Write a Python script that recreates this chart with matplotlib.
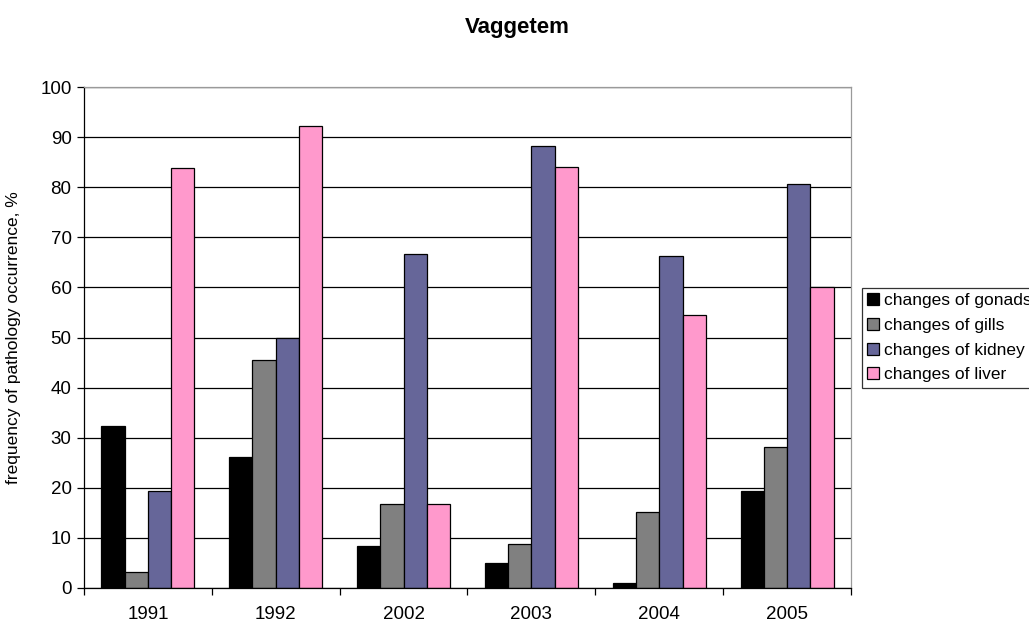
import matplotlib.pyplot as plt
import numpy as np
from matplotlib.patches import Patch

plt.rcParams['font.family'] = ['Liberation Sans', 'DejaVu Sans']

years = ['1991', '1992', '2002', '2003', '2004', '2005']
gonads = [32.3, 26.1, 8.3, 5.0, 1.0, 19.4]
gills = [3.2, 45.5, 16.7, 8.8, 15.1, 28.2]
kidney = [19.4, 50.0, 66.7, 88.2, 66.3, 80.6]
liver = [83.9, 92.3, 16.7, 84.1, 54.5, 60.0]

series = [gonads, gills, kidney, liver]
names = ['changes of gonads', 'changes of gills', 'changes of kidney', 'changes of liver']
colors = ['#000000', '#808080', '#666699', '#FF99CC']

fig = plt.figure(figsize=(10.29, 6.26), dpi=100)
ax = fig.add_axes([84 / 1029, 1 - 588 / 626, (851 - 84) / 1029, (588 - 87) / 626])

x = np.arange(len(years))
w = 0.182
for k, (vals, c) in enumerate(zip(series, colors)):
    ax.bar(x + (k - 1.5) * w, vals, w, color=c, edgecolor='black', linewidth=0.9, zorder=3)

ax.set_xlim(-0.5, len(years) - 0.5)
ax.set_ylim(0, 100)
ax.set_yticks(np.arange(0, 101, 10))
ax.yaxis.grid(True, color='black', linewidth=0.9, zorder=0)
ax.tick_params(axis='y', direction='out', length=5, width=0.9, labelsize=13.5, pad=4)

# category labels centred, tick marks on the boundaries
ax.set_xticks(np.arange(-0.5, len(years), 1.0))
ax.set_xticklabels([])
ax.set_xticks(x, minor=True)
ax.set_xticklabels(years, minor=True)
ax.tick_params(axis='x', which='major', direction='out', length=5, width=0.9)
ax.tick_params(axis='x', which='minor', length=0, labelsize=13.5, pad=13)

ax.spines['left'].set_color('black')
ax.spines['bottom'].set_color('black')
ax.spines['top'].set_color('#9a9a9a')
ax.spines['right'].set_color('#9a9a9a')
for s in ax.spines.values():
    s.set_linewidth(0.9)
    s.set_zorder(4)

ax.set_ylabel('frequency of pathology occurrence, %', fontsize=12.5)
ax.yaxis.set_label_coords(-63 / 767, 0.5)

fig.text(517 / 1029, 1 - 28 / 626, 'Vaggetem', ha='center', va='center',
         fontsize=16, fontweight='bold')

handles = [Patch(facecolor=c, edgecolor='black', linewidth=0.9) for c in colors]
leg = fig.legend(handles, names, loc='upper left',
                 bbox_to_anchor=(862 / 1029, 1 - 288 / 626),
                 fontsize=12.5, frameon=True, fancybox=False, edgecolor='black',
                 handlelength=0.7, handleheight=0.7, handletextpad=0.25,
                 labelspacing=0.55, borderpad=0.3, borderaxespad=0)
leg.get_frame().set_linewidth(0.9)

fig.savefig('out.png', dpi=100)
